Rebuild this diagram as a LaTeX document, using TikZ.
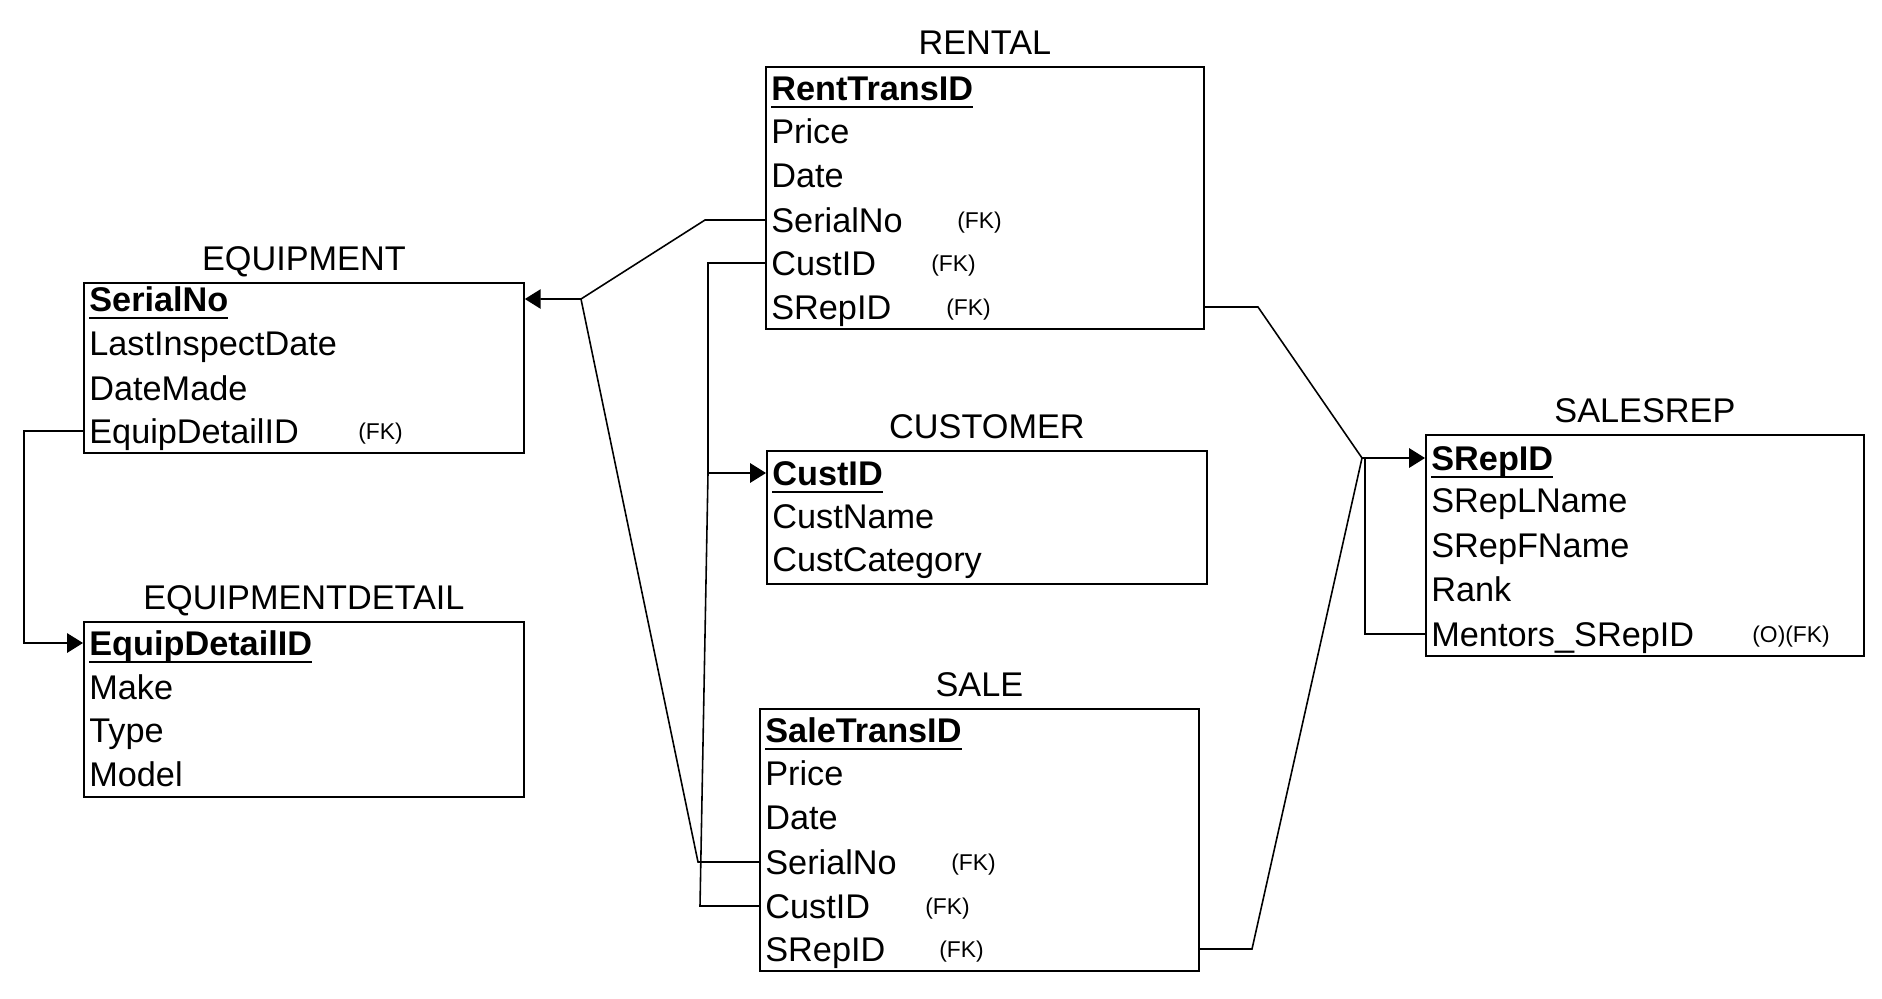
\documentclass[tikz,border=0pt]{standalone}
\usepackage{fontspec}
\setmainfont{Liberation Sans}
\usetikzlibrary{arrows.meta}
\newcommand{\keyfield}[1]{\setbox0\hbox{\bfseries #1}\rlap{\rule[-4.2pt]{\wd0}{1.2pt}}\box0}

\begin{document}
\begin{tikzpicture}[x=0.02cm, y=-0.02cm,
		entity/.style={draw, line width=1.1pt, anchor=north west, inner sep=0pt},
		entname/.style={anchor=base, yshift=6.5pt, inner sep=0pt, font=\fontsize{19.5}{22}\selectfont},
		attr/.style={anchor=west, inner sep=0pt, text height=14pt, text depth=0pt, font=\fontsize{19.5}{22}\selectfont},
		fknote/.style={anchor=west, inner sep=0pt, yshift=-1.2pt, font=\fontsize{13}{15}\selectfont},
		link/.style={line width=0.9pt},
		linkto/.style={link, -{Triangle[length=9pt, width=11pt]}}]
			\useasboundingbox (0, 0) rectangle (1882, 998);
			% equipment
			\node[entity, minimum width=8.8cm, minimum height=3.4cm] (equip) at (83, 282) {};
			\node[entname] at (equip.north) {EQUIPMENT};
			\node[attr] (eq1) at (89, 299) {\keyfield{SerialNo}};
			\node[attr] (eq2) at (89, 343) {LastInspectDate};
			\node[attr] (eq3) at (89, 388) {DateMade};
			\node[attr] (eq4) at (89, 431) {EquipDetailID};
			\node[fknote] (eq4fk) at (358, 431) {(FK)};
			% equipment detail
			\node[entity, minimum width=8.8cm, minimum height=3.5cm] (detail) at (83, 621) {};
			\node[entname] at (detail.north) {EQUIPMENTDETAIL};
			\node[attr] (ed1) at (89, 643) {\keyfield{EquipDetailID}};
			\node[attr] (ed2) at (89, 687) {Make};
			\node[attr] (ed3) at (89, 730) {Type};
			\node[attr] (ed4) at (89, 774) {Model};
			% rental
			\node[entity, minimum width=8.76cm, minimum height=5.24cm] (rental) at (765, 66) {};
			\node[entname] at (rental.north) {RENTAL};
			\node[attr] (rt1) at (771, 88) {\keyfield{RentTransID}};
			\node[attr] (rt2) at (771, 131) {Price};
			\node[attr] (rt3) at (771, 175) {Date};
			\node[attr] (rt4) at (771, 220) {SerialNo};
			\node[attr] (rt5) at (771, 263) {CustID};
			\node[attr] (rt6) at (771, 307) {SRepID};
			\node[fknote] (rt4fk) at (957, 220) {(FK)};
			\node[fknote] (rt5fk) at (931, 263) {(FK)};
			\node[fknote] (rt6fk) at (946, 307) {(FK)};
			% customer
			\node[entity, minimum width=8.8cm, minimum height=2.66cm] (cust) at (766, 450) {};
			\node[entname] at (cust.north) {CUSTOMER};
			\node[attr] (cu1) at (772, 473) {\keyfield{CustID}};
			\node[attr] (cu2) at (772, 516) {CustName};
			\node[attr] (cu3) at (772, 559) {CustCategory};
			% sale
			\node[entity, minimum width=8.78cm, minimum height=5.24cm] (sale) at (759, 708) {};
			\node[entname] at (sale.north) {SALE};
			\node[attr] (sa1) at (765, 730) {\keyfield{SaleTransID}};
			\node[attr] (sa2) at (765, 773) {Price};
			\node[attr] (sa3) at (765, 817) {Date};
			\node[attr] (sa4) at (765, 862) {SerialNo};
			\node[attr] (sa5) at (765, 906) {CustID};
			\node[attr] (sa6) at (765, 949) {SRepID};
			\node[fknote] (sa4fk) at (951, 862) {(FK)};
			\node[fknote] (sa5fk) at (925, 906) {(FK)};
			\node[fknote] (sa6fk) at (939, 949) {(FK)};
			% sales rep
			\node[entity, minimum width=8.76cm, minimum height=4.42cm] (srep) at (1425, 434) {};
			\node[entname] at (srep.north) {SALESREP};
			\node[attr] (sr1) at (1431, 458) {\keyfield{SRepID}};
			\node[attr] (sr2) at (1431, 500) {SRepLName};
			\node[attr] (sr3) at (1431, 545) {SRepFName};
			\node[attr] (sr4) at (1431, 589) {Rank};
			\node[attr] (sr5) at (1431, 634) {Mentors\_SRepID};
			\node[fknote] (sr5fk) at (1752, 634) {(O)(FK)};
			% relationships
			\coordinate (jser) at (581, 299);
			\coordinate (jcust) at (708, 473);
			\coordinate (jsrep) at (1362, 458);
			\draw[linkto] (eq4 -| equip.west) -- (24, 431) -- (24, 643) -- (ed1 -| detail.west);
			\draw[linkto] (rt4 -| rental.west) -- (705, 220) -- (jser) -- (eq1 -| equip.east);
			\draw[link] (sa4 -| sale.west) -- (698, 862) -- (jser);
			\draw[linkto] (rt5 -| rental.west) -- (708, 263) -- (jcust) -- (cu1 -| cust.west);
			\draw[link] (sa5 -| sale.west) -- (700, 906) -- (jcust);
			\draw[linkto] (rt6 -| rental.east) -- (1258, 307) -- (jsrep) -- (sr1 -| srep.west);
			\draw[link] (sa6 -| sale.east) -- (1252, 949) -- (jsrep);
			\draw[link] (sr5 -| srep.west) -- (1365, 634) -- (1365, 458);
		\end{tikzpicture}
\end{document}
